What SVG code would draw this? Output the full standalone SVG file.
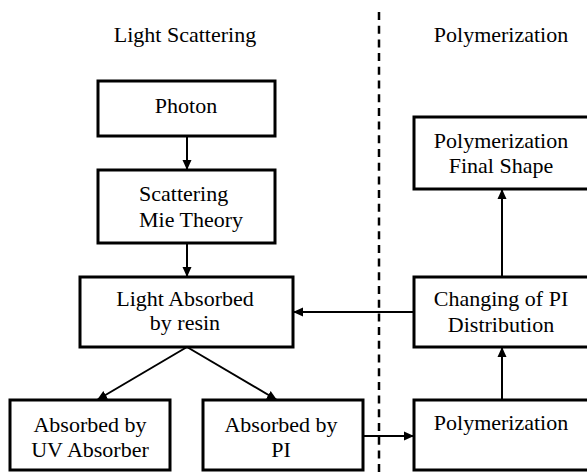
<svg xmlns="http://www.w3.org/2000/svg" width="587" height="472" viewBox="0 0 587 472">
<defs>
<marker id="arr" markerWidth="10" markerHeight="10" viewBox="0 0 10 10" refX="10" refY="5" orient="auto" markerUnits="userSpaceOnUse">
<path d="M0,0.5 L10,5 L0,9.5 Z" fill="#000"/>
</marker>
</defs>
<style>
.box{fill:#fff;stroke:#000;stroke-width:3}
.t{font-family:"Liberation Serif","Times New Roman",serif;font-size:22px;fill:#000;text-anchor:middle}
.c{stroke:#000;stroke-width:2;fill:none;marker-end:url(#arr)}
</style>
<rect width="587" height="472" fill="#fff"/>
<text class="t" x="185" y="42">Light Scattering</text>
<text class="t" x="501" y="42">Polymerization</text>
<line x1="379" y1="12" x2="379" y2="472" stroke="#000" stroke-width="2.5" stroke-dasharray="8,5.7"/>
<g id="connectors">
<line class="c" x1="187" y1="136" x2="187" y2="170"/>
<line class="c" x1="187" y1="243" x2="187" y2="277"/>
<line class="c" x1="187" y1="347" x2="97" y2="400"/>
<line class="c" x1="187" y1="347" x2="277" y2="400"/>
<line class="c" x1="414" y1="312" x2="293" y2="312"/>
<line class="c" x1="363" y1="436" x2="414" y2="436"/>
<line class="c" x1="502" y1="400" x2="502" y2="347"/>
<line class="c" x1="502" y1="277" x2="502" y2="189"/>
</g>
<g id="photon">
<rect class="box" x="98" y="81" width="177" height="55"/>
<text class="t" x="186" y="113">Photon</text>
</g>
<g id="scattering">
<rect class="box" x="98" y="170" width="177" height="73"/>
<text class="t" x="139" y="201" style="text-anchor:start">Scattering</text>
<text class="t" x="139" y="227" style="text-anchor:start">Mie Theory</text>
</g>
<g id="absorbed-resin">
<rect class="box" x="80" y="277" width="213" height="70"/>
<text class="t" x="185" y="306">Light Absorbed</text>
<text class="t" x="185" y="330">by resin</text>
</g>
<g id="uv-absorber">
<rect class="box" x="10" y="400" width="160" height="70"/>
<text class="t" x="90" y="432">Absorbed by</text>
<text class="t" x="90" y="457">UV Absorber</text>
</g>
<g id="absorbed-pi">
<rect class="box" x="203" y="400" width="160" height="70"/>
<text class="t" x="281" y="432">Absorbed by</text>
<text class="t" x="281" y="457">PI</text>
</g>
<g id="final-shape">
<rect class="box" x="414" y="117" width="190" height="72"/>
<text class="t" x="501" y="148">Polymerization</text>
<text class="t" x="501" y="173">Final Shape</text>
</g>
<g id="changing-pi">
<rect class="box" x="414" y="277" width="190" height="70"/>
<text class="t" x="501" y="306">Changing of PI</text>
<text class="t" x="501" y="332">Distribution</text>
</g>
<g id="polymerization">
<rect class="box" x="414" y="400" width="190" height="70"/>
<text class="t" x="501" y="430">Polymerization</text>
</g>
</svg>
